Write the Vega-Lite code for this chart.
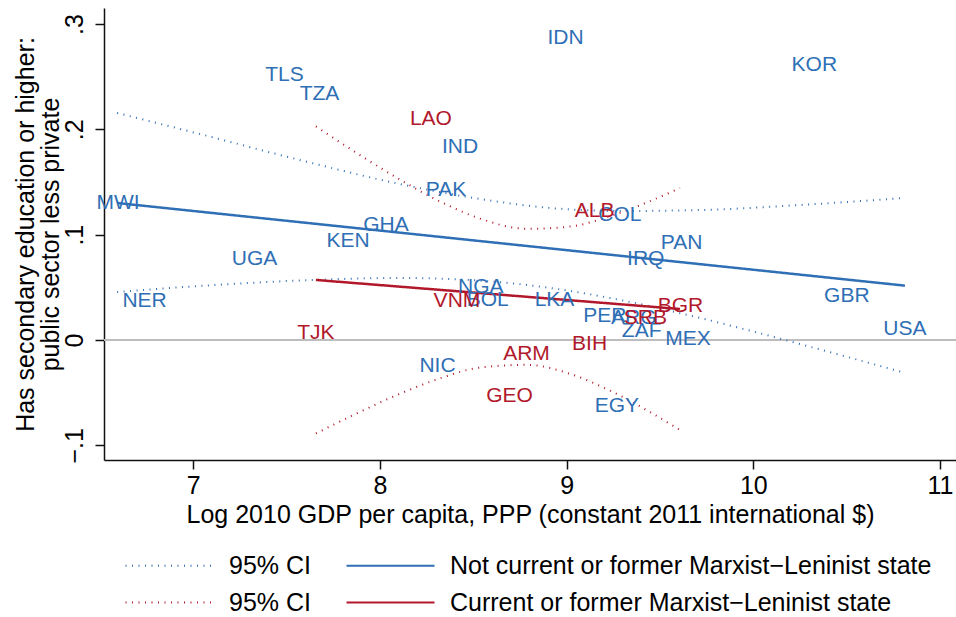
{
  "$schema": "https://vega.github.io/schema/vega-lite/v6.json",
  "autosize": "none",
  "padding": {"left": 104, "top": 8, "right": 0, "bottom": 157},
  "width": 852,
  "height": 452,
  "background": "white",
  "config": {
    "view": {"stroke": null},
    "font": "Liberation Sans",
    "axis": {
      "grid": false,
      "domainColor": "#111111",
      "domainWidth": 1.5,
      "tickColor": "#111111",
      "tickWidth": 1.5,
      "tickSize": 9,
      "labelFont": "Liberation Sans",
      "labelFontSize": 25,
      "labelColor": "#000000",
      "titleFont": "Liberation Sans",
      "titleFontSize": 25,
      "titleFontWeight": "normal",
      "titleColor": "#000000",
      "labelFlush": false,
      "labelOverlap": false
    }
  },
  "datasets": {
    "labels": [
      {"code": "IDN", "m": 0, "x": 8.994, "y": 0.2873},
      {"code": "KOR", "m": 0, "x": 10.327, "y": 0.2621},
      {"code": "TLS", "m": 0, "x": 7.488, "y": 0.2526},
      {"code": "TZA", "m": 0, "x": 7.676, "y": 0.2341},
      {"code": "IND", "m": 0, "x": 8.4285, "y": 0.1844},
      {"code": "PAK", "m": 0, "x": 8.3535, "y": 0.1434},
      {"code": "MWI", "m": 0, "x": 6.597, "y": 0.1306},
      {"code": "GHA", "m": 0, "x": 8.032, "y": 0.1097},
      {"code": "KEN", "m": 0, "x": 7.829, "y": 0.0945},
      {"code": "UGA", "m": 0, "x": 7.328, "y": 0.0774},
      {"code": "NER", "m": 0, "x": 6.739, "y": 0.0375},
      {"code": "COL", "m": 0, "x": 9.2855, "y": 0.1201},
      {"code": "PAN", "m": 0, "x": 9.616, "y": 0.0926},
      {"code": "IRQ", "m": 0, "x": 9.424, "y": 0.0783},
      {"code": "NGA", "m": 0, "x": 8.54, "y": 0.0515},
      {"code": "BOL", "m": 0, "x": 8.577, "y": 0.0385},
      {"code": "LKA", "m": 0, "x": 8.935, "y": 0.0385},
      {"code": "PER", "m": 0, "x": 9.205, "y": 0.0237},
      {"code": "ARG", "m": 0, "x": 9.36, "y": 0.0222},
      {"code": "ZAF", "m": 0, "x": 9.402, "y": 0.0095},
      {"code": "MEX", "m": 0, "x": 9.65, "y": 0.0019},
      {"code": "GBR", "m": 0, "x": 10.501, "y": 0.0423},
      {"code": "USA", "m": 0, "x": 10.812, "y": 0.0109},
      {"code": "NIC", "m": 0, "x": 8.308, "y": -0.0233},
      {"code": "EGY", "m": 0, "x": 9.269, "y": -0.0622},
      {"code": "LAO", "m": 1, "x": 8.273, "y": 0.2104},
      {"code": "ALB", "m": 1, "x": 9.15, "y": 0.123},
      {"code": "VNM", "m": 1, "x": 8.4124, "y": 0.0383},
      {"code": "TJK", "m": 1, "x": 7.657, "y": 0.0071},
      {"code": "ARM", "m": 1, "x": 8.785, "y": -0.0123},
      {"code": "BIH", "m": 1, "x": 9.123, "y": -0.0033},
      {"code": "GEO", "m": 1, "x": 8.694, "y": -0.0522},
      {"code": "BGR", "m": 1, "x": 9.61, "y": 0.0334},
      {"code": "SRB", "m": 1, "x": 9.422, "y": 0.0218}
    ],
    "ci": [
      {"series": "ciA_hi", "key": "ciA", "x": 6.592, "y": 0.2156},
      {"series": "ciA_hi", "key": "ciA", "x": 7.036, "y": 0.1956},
      {"series": "ciA_hi", "key": "ciA", "x": 7.571, "y": 0.1709},
      {"series": "ciA_hi", "key": "ciA", "x": 8.107, "y": 0.1481},
      {"series": "ciA_hi", "key": "ciA", "x": 8.536, "y": 0.1339},
      {"series": "ciA_hi", "key": "ciA", "x": 8.911, "y": 0.1254},
      {"series": "ciA_hi", "key": "ciA", "x": 9.286, "y": 0.1225},
      {"series": "ciA_hi", "key": "ciA", "x": 9.714, "y": 0.1234},
      {"series": "ciA_hi", "key": "ciA", "x": 10.249, "y": 0.1282},
      {"series": "ciA_hi", "key": "ciA", "x": 10.812, "y": 0.1349},
      {"series": "ciA_lo", "key": "ciA", "x": 6.592, "y": 0.0456},
      {"series": "ciA_lo", "key": "ciA", "x": 7.036, "y": 0.0513},
      {"series": "ciA_lo", "key": "ciA", "x": 7.571, "y": 0.0565},
      {"series": "ciA_lo", "key": "ciA", "x": 8.107, "y": 0.0589},
      {"series": "ciA_lo", "key": "ciA", "x": 8.536, "y": 0.0564},
      {"series": "ciA_lo", "key": "ciA", "x": 8.911, "y": 0.0494},
      {"series": "ciA_lo", "key": "ciA", "x": 9.286, "y": 0.038},
      {"series": "ciA_lo", "key": "ciA", "x": 9.714, "y": 0.0209},
      {"series": "ciA_lo", "key": "ciA", "x": 10.249, "y": -0.0038},
      {"series": "ciA_lo", "key": "ciA", "x": 10.812, "y": -0.0313},
      {"series": "ciB_hi", "key": "ciB", "x": 7.657, "y": 0.2028},
      {"series": "ciB_hi", "key": "ciB", "x": 7.893, "y": 0.1756},
      {"series": "ciB_hi", "key": "ciB", "x": 8.107, "y": 0.1523},
      {"series": "ciB_hi", "key": "ciB", "x": 8.321, "y": 0.1316},
      {"series": "ciB_hi", "key": "ciB", "x": 8.536, "y": 0.1153},
      {"series": "ciB_hi", "key": "ciB", "x": 8.787, "y": 0.1056},
      {"series": "ciB_hi", "key": "ciB", "x": 9.017, "y": 0.1077},
      {"series": "ciB_hi", "key": "ciB", "x": 9.231, "y": 0.1175},
      {"series": "ciB_hi", "key": "ciB", "x": 9.446, "y": 0.1318},
      {"series": "ciB_hi", "key": "ciB", "x": 9.607, "y": 0.1443},
      {"series": "ciB_lo", "key": "ciB", "x": 7.657, "y": -0.0888},
      {"series": "ciB_lo", "key": "ciB", "x": 7.893, "y": -0.0683},
      {"series": "ciB_lo", "key": "ciB", "x": 8.107, "y": -0.0511},
      {"series": "ciB_lo", "key": "ciB", "x": 8.321, "y": -0.0365},
      {"series": "ciB_lo", "key": "ciB", "x": 8.536, "y": -0.0262},
      {"series": "ciB_lo", "key": "ciB", "x": 8.787, "y": -0.0236},
      {"series": "ciB_lo", "key": "ciB", "x": 9.017, "y": -0.0321},
      {"series": "ciB_lo", "key": "ciB", "x": 9.231, "y": -0.048},
      {"series": "ciB_lo", "key": "ciB", "x": 9.446, "y": -0.0684},
      {"series": "ciB_lo", "key": "ciB", "x": 9.607, "y": -0.0855}
    ],
    "fit": [
      {"series": "fitA", "key": "fitA", "x": 6.592, "y": 0.1301},
      {"series": "fitA", "key": "fitA", "x": 10.812, "y": 0.0516},
      {"series": "fitB", "key": "fitB", "x": 7.657, "y": 0.057},
      {"series": "fitB", "key": "fitB", "x": 9.607, "y": 0.0294}
    ],
    "zero": [{"y": 0}]
  },
  "encoding": {
    "x": {
      "field": "x", "type": "quantitative",
      "scale": {"domain": [6.5217, 11.0857], "nice": false, "zero": false},
      "axis": {
        "orient": "bottom",
        "values": [7, 8, 9, 10, 11],
        "format": "d",
        "labelPadding": 4,
        "title": "Log 2010 GDP per capita, PPP (constant 2011 international $)",
        "titleBaseline": "alphabetic",
        "titleY": 62
      }
    },
    "y": {
      "field": "y", "type": "quantitative",
      "scale": {"domain": [-0.114, 0.3153], "nice": false, "zero": false},
      "axis": {
        "orient": "left",
        "values": [-0.1, 0, 0.1, 0.2, 0.3],
        "labelExpr": "datum.value == 0 ? '0' : (datum.value < 0 ? '−' + replace(format(-datum.value, '.1f'), '0.', '.') : replace(format(datum.value, '.1f'), '0.', '.'))",
        "labelAngle": -90,
        "labelAlign": "center",
        "labelBaseline": "alphabetic",
        "labelPadding": 13,
        "title": ["Has secondary education or higher:", "public sector less private"],
        "titleAngle": -90,
        "titleAlign": "center",
        "titleBaseline": "alphabetic",
        "titleLineHeight": 25,
        "titleX": -71,
        "titleY": 226
      }
    }
  },
  "layer": [
    {
      "data": {"name": "zero"},
      "mark": {"type": "rule", "color": "#bdbdbd", "strokeWidth": 2},
      "encoding": {"x": null}
    },
    {
      "data": {"name": "ci"},
      "mark": {"type": "line", "interpolate": "monotone", "strokeWidth": 2},
      "encoding": {
        "color": {
          "field": "key", "type": "nominal",
          "scale": {"domain": ["ciA", "fitA", "ciB", "fitB"], "range": ["#2f6fb5", "#2f6fb5", "#b2182b", "#b2182b"]},
          "legend": {
            "orient": "none",
            "legendX": 19,
            "legendY": 545,
            "direction": "horizontal",
            "columns": 2,
            "title": null,
            "symbolType": "M-4.4,0H4.4",
            "symbolSize": 400,
            "symbolOffset": 34,
            "labelOffset": 47,
            "symbolStrokeWidth": 2,
            "labelFont": "Liberation Sans",
            "labelFontSize": 25,
            "labelColor": "#000000",
            "labelLimit": 1000,
            "columnPadding": 31,
            "rowPadding": 11,
            "labelExpr": "datum.value == 'fitA' ? 'Not current or former Marxist−Leninist state' : datum.value == 'fitB' ? 'Current or former Marxist−Leninist state' : '95% CI'"
          }
        },
        "strokeDash": {
          "field": "key", "type": "nominal",
          "scale": {"domain": ["ciA", "fitA", "ciB", "fitB"], "range": [[1, 5.5], [1, 0], [1, 5.5], [1, 0]]}
        },
        "detail": {"field": "series", "type": "nominal"}
      }
    },
    {
      "data": {"name": "fit"},
      "mark": {"type": "line", "strokeWidth": 2.5},
      "encoding": {
        "color": {"field": "key", "type": "nominal"},
        "strokeDash": {"field": "key", "type": "nominal"},
        "detail": {"field": "series", "type": "nominal"}
      }
    },
    {
      "data": {"name": "labels"},
      "mark": {"type": "text", "font": "Liberation Sans", "fontSize": 21, "align": "center", "baseline": "middle", "dy": 1},
      "encoding": {
        "text": {"field": "code", "type": "nominal"},
        "color": {"condition": {"test": "datum.m == 1", "value": "#b2182b"}, "value": "#2f6fb5"}
      }
    }
  ]
}
